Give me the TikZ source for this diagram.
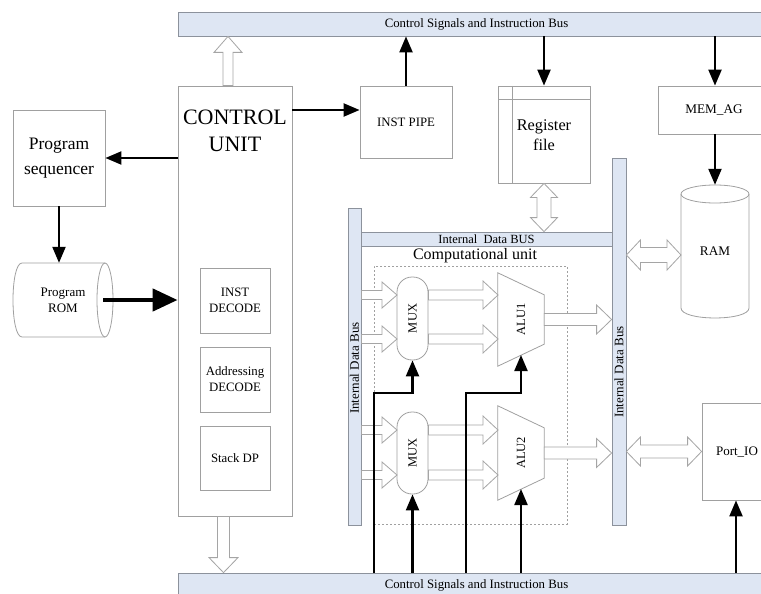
\documentclass[tikz,border=0pt]{standalone}
\usepackage{fontspec}
\setmainfont{Liberation Serif}
\usetikzlibrary{arrows.meta,calc}
\definecolor{busfill}{RGB}{222,230,243}
\definecolor{busline}{RGB}{140,146,156}
\definecolor{boxline}{RGB}{160,160,160}
\definecolor{hollowline}{RGB}{165,165,165}
\newcommand\setfs[2]{\fontsize{#1}{#2}\selectfont}
\newcommand\singlehollow[5]{%
  \draw[hollow] let \p1=(#1), \p2=(#2), \n1={atan2(\y2-\y1,\x2-\x1)}, \n2={veclen(\x2-\x1,\y2-\y1)} in
   [shift={(\p1)},rotate=\n1] (0,#3) -- ({\n2-#5},#3) -- ({\n2-#5},#4) -- (\n2,0) -- ({\n2-#5},-#4) -- ({\n2-#5},-#3) -- (0,-#3) -- cycle;}
\newcommand\doublehollow[5]{%
  \draw[hollow] let \p1=(#1), \p2=(#2), \n1={atan2(\y2-\y1,\x2-\x1)}, \n2={veclen(\x2-\x1,\y2-\y1)} in
   [shift={(\p1)},rotate=\n1] (0,0) -- (#5,#4) -- (#5,#3) -- ({\n2-#5},#3) -- ({\n2-#5},#4) -- (\n2,0) -- ({\n2-#5},-#4) -- ({\n2-#5},-#3) -- (#5,-#3) -- (#5,-#4) -- cycle;}
\begin{document}
\begin{tikzpicture}[x=1pt,y=-1pt,
  bus/.style={draw=busline,fill=busfill,line width=0.8pt,inner sep=0pt},
  box/.style={draw=boxline,line width=0.8pt,fill=white,inner sep=0pt,align=center},
  ghost/.style={inner sep=0pt,align=center},
  hollow/.style={draw=hollowline,fill=white,line width=0.8pt,line join=miter},
  sig/.style={line width=2.2pt,-{Triangle[length=16pt,width=13pt]}},
  bigsig/.style={line width=4.5pt,-{Triangle[length=25pt,width=22pt]}},
  dashbox/.style={draw=boxline,line width=0.7pt,dash pattern=on 2pt off 2pt}]
\useasboundingbox (0,0) rectangle (761,594);
\fill[white] (0,0) rectangle (761,594);

% buses
\node[bus,minimum width=597,minimum height=24,font=\setfs{12.8}{15}] (topbus) at (476.5,24) {Control Signals and Instruction Bus};
\node[bus,minimum width=597,minimum height=25,font=\setfs{12.8}{15}] (botbus) at (476.5,585.5) {Control Signals and Instruction Bus};
\node[bus,minimum width=251,minimum height=14,font=\setfs{12.5}{14}] (idbus) at (486.5,239) {Internal~~Data BUS};
\node[bus,minimum width=13,minimum height=317] (lbus) at (354.5,366.5) {};
\node[rotate=90,font=\setfs{13}{15}] (lbustext) at (354.5,368) {Internal Data Bus};
\node[bus,minimum width=14,minimum height=367] (rbus) at (619,341.5) {};
\node[rotate=90,font=\setfs{13}{15}] (rbustext) at (619,372) {Internal Data Bus};

% control unit
\node[box,minimum width=114,minimum height=430] (cu) at (235,301) {};
\node[ghost,font=\setfs{22}{27}] (cutext) at (235,130.5) {CONTROL\\UNIT};
\node[box,minimum width=70,minimum height=65,font=\setfs{12.8}{16}] (instdec) at (235,300.5) {INST\\DECODE};
\node[box,minimum width=70,minimum height=65,font=\setfs{12.8}{16}] (addrdec) at (235,379.5) {Addressing\\DECODE};
\node[box,minimum width=70,minimum height=64,font=\setfs{12.8}{16}] (stack) at (235,458) {Stack DP};

% program sequencer and ROM
\node[box,minimum width=92,minimum height=96,font=\setfs{17.5}{25}] (seq) at (59,158) {Program\\sequencer};
\node[ghost,minimum width=100,minimum height=74,font=\setfs{13}{16}] (rom) at (63,300) {Program\\ROM};
\draw[draw=boxline,line width=0.8pt] (22,263) -- (105,263) (22,337) -- (105,337)
  (22,263) .. controls (10,263) and (10,337) .. (22,337);
\draw[draw=boxline,line width=0.8pt] (105,300) ellipse [x radius=8,y radius=37];

% top row boxes
\node[box,minimum width=92,minimum height=72,font=\setfs{12.8}{15}] (instpipe) at (406,122) {INST PIPE};
\node[box,minimum width=92,minimum height=97] (regfile) at (544,134.5) {};
\draw[draw=boxline,line width=0.8pt] (512,86) -- (512,183) (498,99.5) -- (590,99.5);
\node[ghost,font=\setfs{16.3}{20}] (regtext) at (544,135) {Register\\file};
\node[box,minimum width=114,minimum height=48,font=\setfs{13.2}{15}] (memag) at (715,110) {};
\node[ghost,font=\setfs{13.2}{15}] (memagtext) at (714,110) {MEM\_AG};

% RAM
\node[ghost,minimum width=68,minimum height=133,font=\setfs{13.2}{15}] (ram) at (715,251.5) {RAM};
\draw[draw=boxline,line width=0.8pt] (681,194) -- (681,308) .. controls (681,321.3) and (749,321.3) .. (749,308) -- (749,194);
\draw[draw=boxline,line width=0.8pt] (715,194) ellipse [x radius=34,y radius=9];

% Port IO
\node[box,minimum width=68,minimum height=97] (portio) at (736,451.5) {};
\node[ghost,font=\setfs{13}{15}] (portiotext) at (737,452) {Port\_IO};

% computational unit
\node[ghost,font=\setfs{16}{18}] (comptext) at (475,256) {Computational unit};
\node[dashbox,minimum width=193,minimum height=258] (compbox) at (470.5,395) {};

\node[box,rounded corners=15pt,minimum width=31,minimum height=83] (mux1) at (412.5,318.5) {};
\node[rotate=90,font=\setfs{12.5}{14}] (mux1text) at (mux1) {MUX};
\node[box,rounded corners=15pt,minimum width=31,minimum height=82] (mux2) at (412.5,453) {};
\node[rotate=90,font=\setfs{12.5}{14}] (mux2text) at (mux2) {MUX};

\node[ghost,minimum width=46,minimum height=93] (alu1) at (521,319.5) {};
\draw[draw=boxline,line width=0.8pt,fill=white] (alu1.north west) -- ([yshift=-22pt]alu1.north east) -- ([yshift=22pt]alu1.south east) -- (alu1.south west) -- cycle;
\node[rotate=90,font=\setfs{12.5}{14}] (alu1text) at (alu1) {ALU1};
\node[ghost,minimum width=46,minimum height=94] (alu2) at (521,453) {};
\draw[draw=boxline,line width=0.8pt,fill=white] (alu2.north west) -- ([yshift=-22pt]alu2.north east) -- ([yshift=22pt]alu2.south east) -- (alu2.south west) -- cycle;
\node[rotate=90,font=\setfs{12.5}{14}] (alu2text) at (alu2) {ALU2};

% helper coordinates
\coordinate (cuT) at ([xshift=-7pt]cu.north);
\coordinate (cuB) at ([xshift=-11.5pt]cu.south);
\coordinate (ramIn) at (681,255);
\coordinate (m1a) at (397,295);
\coordinate (m1b) at (397,339);
\coordinate (m2a) at (397,430);
\coordinate (m2b) at (397,475);
\coordinate (a1a) at (498,295);
\coordinate (a1b) at (498,339);
\coordinate (a2a) at (498,430);
\coordinate (a2b) at (498,475);
\coordinate (cipe) at ([yshift=12pt]instpipe.west);
\coordinate (romOut) at (103,300);
\coordinate (k1) at (374,393);
\coordinate (k2) at (466,393);
\coordinate (alu1ctl) at (521,355);
\coordinate (alu2ctl) at (521,489);

% hollow arrows
\singlehollow{cuT}{cuT |- topbus.south}{5}{14}{16}
\singlehollow{cuB}{cuB |- botbus.north}{6}{14.5}{15}
\doublehollow{regfile.south}{regfile.south |- idbus.north}{7}{13.5}{14}
\doublehollow{rbus.east |- ramIn}{ramIn}{7.5}{15}{14}
\doublehollow{rbus.east |- portio.west}{portio.west}{6.5}{14.5}{14}
\singlehollow{lbus.east |- m1a}{m1a}{4.5}{13}{15}
\singlehollow{lbus.east |- m1b}{m1b}{4.5}{13}{15}
\singlehollow{lbus.east |- m2a}{m2a}{4.5}{13}{15}
\singlehollow{lbus.east |- m2b}{m2b}{4.5}{13}{15}
\singlehollow{mux1.east |- a1a}{a1a}{5}{14}{15}
\singlehollow{mux1.east |- a1b}{a1b}{5}{14}{15}
\singlehollow{mux2.east |- a2a}{a2a}{5}{14}{15}
\singlehollow{mux2.east |- a2b}{a2b}{5}{14}{15}
\singlehollow{alu1.east}{rbus.west |- alu1.east}{6}{14.5}{15}
\singlehollow{alu2.east}{rbus.west |- alu2.east}{6}{14.5}{15}

% signal arrows
\draw[sig] (cu.east |- cipe) -- (cipe);
\draw[sig] (instpipe.north) -- (instpipe.north |- topbus.south);
\draw[sig] (regfile.north |- topbus.south) -- (regfile.north);
\draw[sig] (memag.north |- topbus.south) -- (memag.north);
\draw[sig] (memag.south) -- (ram.north);
\draw[sig] (cu.west |- seq.east) -- (seq.east);
\draw[sig] (seq.south) -- (seq.south |- rom.north);
\draw[bigsig] (romOut) -- (cu.west |- romOut);
\draw[sig] (portio.south |- botbus.north) -- (portio.south);
\draw[sig] (mux2.south |- botbus.north) -- (mux2.south);
\draw[sig] (alu2ctl |- botbus.north) -- (alu2ctl);
\draw[sig] (k1 |- botbus.north) -- (k1) -| (mux1.south);
\draw[sig] (k2 |- botbus.north) -- (k2) -| (alu1ctl);
\end{tikzpicture}
\end{document}
